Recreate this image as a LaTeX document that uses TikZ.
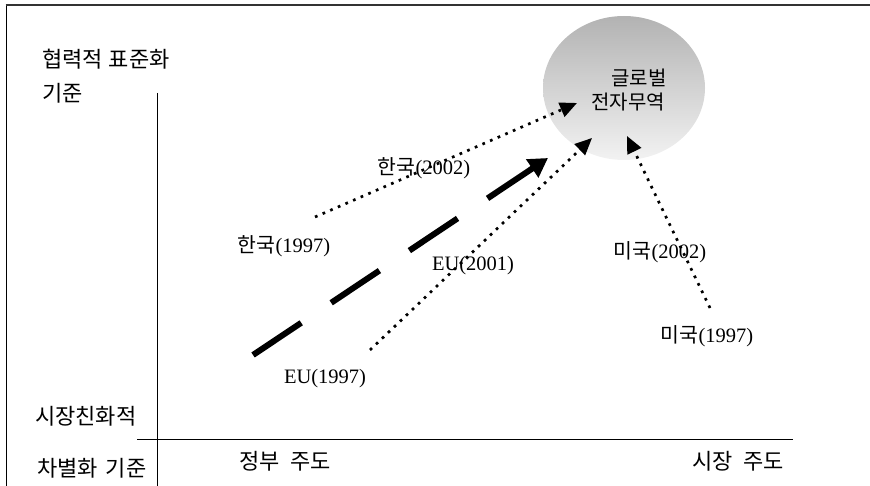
\documentclass[tikz,border=0pt]{standalone}
\usepackage{fontspec}
\setmainfont{Liberation Serif}
\newfontfamily\kr{Noto Sans CJK KR}
\usetikzlibrary{arrows.meta,shapes.geometric}
\begin{document}
\begin{tikzpicture}[x=1pt,y=-1pt,
  lbl/.style={font=\fontsize{20.5}{22}\selectfont, inner sep=0pt},
  axl/.style={font=\kr\fontsize{22}{24}\selectfont, inner sep=0pt},
  dotarrow/.style={line width=2.7pt, dash pattern=on 2.7pt off 5.6pt, -{Triangle[length=17pt,width=15pt]}},
  bigarrow/.style={line width=6pt, dash pattern=on 58pt off 36pt, -{Triangle[length=19pt,width=21pt]}}]
\useasboundingbox (0,0) rectangle (870,486);
% frame
\draw[line width=1pt] (6,486) -- (6,5.5);
\draw[line width=2pt, black!80] (5.5,5.5) -- (870,5.5);
% axes
\draw[line width=0.9pt] (157,93) -- (157,486);
\draw[line width=0.9pt] (137,439) -- (793,439);
% axis labels
\node[axl, anchor=west] (ytop1) at (42,59) {협력적\hspace{6pt}표준화};
\node[axl, anchor=west] (ytop2) at (42,93) {기준};
\node[axl, anchor=west] (ybot1) at (35,416) {시장친화적};
\node[axl, anchor=west] (ybot2) at (37,468) {차별화\hspace{8pt}기준};
\node[axl] (xleft) at (285,461) {정부\hspace{11pt}주도};
\node[axl] (xright) at (738,461) {시장\hspace{11pt}주도};
% globe
\node[ellipse, minimum width=162pt, minimum height=144pt, inner sep=0pt,
      left color=black!30, right color=black!5, shading angle=0] (globe) at (624,88) {};
\node[font=\kr\fontsize{20}{22}\selectfont, inner sep=0pt] (g1) at (639,78) {글로벌};
\node[font=\kr\fontsize{20}{22}\selectfont, inner sep=0pt] (g2) at (628,102) {전자무역};
% coordinates
\coordinate (kstart) at (315,217);
\coordinate (kend) at (577,103);
\coordinate (estart) at (370,350);
\coordinate (eend) at (592,138);
\coordinate (ustart) at (710,308);
\coordinate (uend) at (627,136);
\coordinate (bstart) at (253,355);
\coordinate (bend) at (548,158);
% arrows
\draw[bigarrow] (bstart) -- (bend);
\draw[dotarrow] (kstart) -- (kend);
\draw[dotarrow] (estart) -- (eend);
\draw[dotarrow] (ustart) -- (uend);
% labels
\node[lbl] (k2002) at (424,168) {{\kr 한국}(2002)};
\node[lbl] (k1997) at (284,246) {{\kr 한국}(1997)};
\node[lbl] (e2001) at (473,266) {EU(2001)};
\node[lbl] (e1997) at (325,379) {EU(1997)};
\node[lbl] (u2002) at (660,252) {{\kr 미국}(2002)};
\node[lbl] (u1997) at (707,336) {{\kr 미국}(1997)};
\end{tikzpicture}
\end{document}
